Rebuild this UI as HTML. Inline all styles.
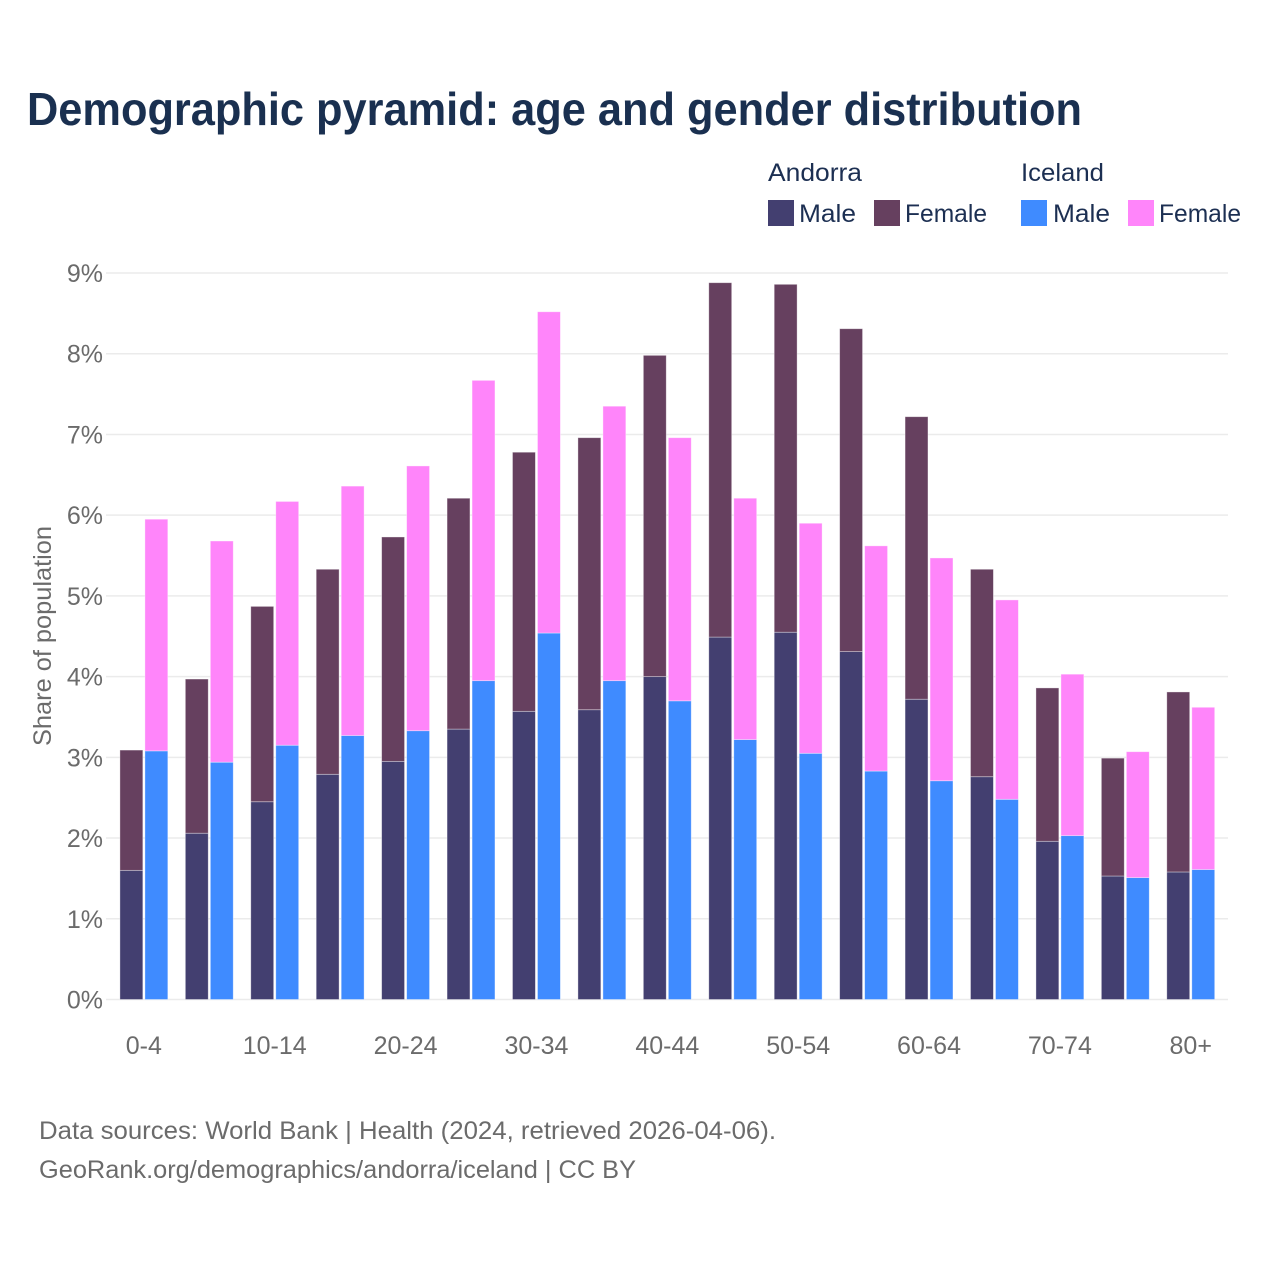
<!DOCTYPE html>
<html lang="en">
<head>
<meta charset="utf-8">
<title>Demographic pyramid</title>
<style>
html,body{margin:0;padding:0;background:#fff;width:1280px;height:1280px;overflow:hidden}
svg{display:block}
text{font-family:"Liberation Sans",sans-serif}
</style>
</head>
<body>
<svg id="chart" xmlns="http://www.w3.org/2000/svg" width="1280" height="1280" viewBox="0 0 1280 1280">
  <rect width="1280" height="1280" fill="#fff"/>
  <text x="27" y="125" font-size="46" font-weight="700" fill="#1a3050" textLength="1055" lengthAdjust="spacingAndGlyphs">Demographic pyramid: age and gender distribution</text>

  <g font-size="25" fill="#1c2f52">
    <text x="768" y="181" textLength="94" lengthAdjust="spacingAndGlyphs">Andorra</text>
    <text x="1021" y="181" textLength="83" lengthAdjust="spacingAndGlyphs">Iceland</text>
    <rect x="768" y="200" width="26" height="26" fill="#433f70"/>
    <text x="799" y="222" textLength="57" lengthAdjust="spacingAndGlyphs">Male</text>
    <rect x="874" y="200" width="26" height="26" fill="#66405f"/>
    <text x="905" y="222" textLength="82" lengthAdjust="spacingAndGlyphs">Female</text>
    <rect x="1021" y="200" width="26" height="26" fill="#3f8bff"/>
    <text x="1053" y="222" textLength="57" lengthAdjust="spacingAndGlyphs">Male</text>
    <rect x="1128" y="200" width="26" height="26" fill="#ff85fa"/>
    <text x="1159" y="222" textLength="82" lengthAdjust="spacingAndGlyphs">Female</text>
  </g>

  <g id="grid"></g>
  <g id="yticks"></g>
  <g id="bars"></g>
  <g id="xticks"></g>

  <text transform="translate(51,636) rotate(-90)" text-anchor="middle" font-size="25" fill="#6b6b6b" textLength="220" lengthAdjust="spacingAndGlyphs">Share of population</text>

  <text x="39" y="1139" font-size="25" fill="#6b6b6b" textLength="737" lengthAdjust="spacingAndGlyphs">Data sources: World Bank | Health (2024, retrieved 2026-04-06).</text>
  <text x="39" y="1178" font-size="25" fill="#6b6b6b" textLength="597" lengthAdjust="spacingAndGlyphs">GeoRank.org/demographics/andorra/iceland | CC BY</text>
</svg>
<script>
const categories = ["0-4","5-9","10-14","15-19","20-24","25-29","30-34","35-39","40-44","45-49","50-54","55-59","60-64","65-69","70-74","75-79","80+"];
const andorraMale = [1.60,2.06,2.45,2.79,2.95,3.35,3.57,3.59,4.00,4.49,4.55,4.31,3.72,2.76,1.96,1.53,1.58];
const andorraFemale = [1.49,1.91,2.42,2.54,2.78,2.86,3.21,3.37,3.98,4.39,4.31,4.00,3.50,2.57,1.90,1.46,2.23];
const icelandMale = [3.08,2.94,3.15,3.27,3.33,3.95,4.54,3.95,3.70,3.22,3.05,2.83,2.71,2.48,2.03,1.51,1.61];
const icelandFemale = [2.87,2.74,3.02,3.09,3.28,3.72,3.98,3.40,3.26,2.99,2.85,2.79,2.76,2.47,2.00,1.56,2.01];
const yTickValues = [0,1,2,3,4,5,6,7,8,9];

const NS = 'http://www.w3.org/2000/svg';
function yScale(v){ return 999.5 - v * 80.72; }
function xBand(i){ return 111.15 + 65.43 * i; }
const step = 65.43;
const barW = 22.9;
const barGap = 2.1;

function make(tag, parent, attrs){
  const el = document.createElementNS(NS, tag);
  for (const k in attrs) el.setAttribute(k, attrs[k]);
  parent.appendChild(el);
  return el;
}

const gridG = document.getElementById('grid');
const yG = document.getElementById('yticks');
yTickValues.forEach(function(v){
  const line = make('line', gridG, {x1:106, x2:1228, y1:yScale(v), y2:yScale(v), stroke:'#ebebeb', 'stroke-width':1.5});
  
  
  const t = make('text', yG, {x:103, y:yScale(v)+9, 'text-anchor':'end', 'font-size':25, fill:'#6b6b6b'});
  t.textContent = v + '%';
  
  
});

const barsG = document.getElementById('bars');
function stacked(i, left, male, female, maleColor, femaleColor, country){
  const m = make('rect', barsG, {x:left, width:barW, y:yScale(male), height:yScale(0)-yScale(male), fill:maleColor, stroke:'#fff', 'stroke-opacity':0.45, 'stroke-width':0.8});
  
  
  const f = make('rect', barsG, {x:left, width:barW, y:yScale(male+female), height:yScale(male)-yScale(male+female), fill:femaleColor, stroke:'#fff', 'stroke-opacity':0.45, 'stroke-width':0.8});
  
  
}

const xG = document.getElementById('xticks');
categories.forEach(function(c, i){
  const center = xBand(i) + step / 2;
  stacked(i, center - barW - barGap / 2, andorraMale[i], andorraFemale[i], '#433f70', '#66405f', 'andorra');
  stacked(i, center + barGap / 2, icelandMale[i], icelandFemale[i], '#3f8bff', '#ff85fa', 'iceland');
  if (i % 2 === 0) {
    const t = make('text', xG, {x:center, y:1054, 'text-anchor':'middle', 'font-size':25, fill:'#6b6b6b'});
    t.textContent = c;
    
    
  }
});
</script>
</body>
</html>
